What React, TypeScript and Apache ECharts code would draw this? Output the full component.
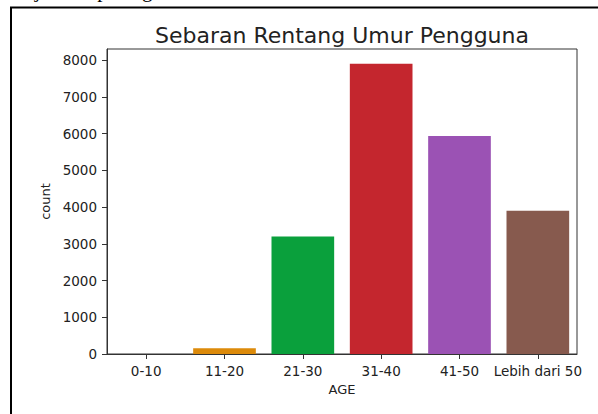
import React, { useEffect, useRef } from "react";
import * as echarts from "echarts";

const categories = ["0-10", "11-20", "21-30", "31-40", "41-50", "Lebih dari 50"];
const counts = [3, 155, 3200, 7900, 5930, 3900];
const barColors = ["#3274a1", "#dc8a0a", "#0aa03c", "#c4262e", "#9b52b4", "#875a4e"];
const yTicks = { min: 0, max: 8300, interval: 1000 };

const FONT = "DejaVu Sans";

export default function App() {
  const ref = useRef<HTMLDivElement>(null);
  useEffect(() => {
    if (!ref.current) return;
    const chart = echarts.init(ref.current, undefined, { renderer: "svg" });
    chart.setOption({
      animation: false,
      backgroundColor: "#ffffff",
      grid: {
        left: 107,
        right: 21,
        top: 49,
        bottom: 60,
        show: true,
        borderColor: "#333",
        borderWidth: 1,
        backgroundColor: "transparent",
      },
      graphic: [
        {
          type: "rect",
          shape: { x: 11, y: 7.5, width: 620, height: 440 },
          style: { fill: "none", stroke: "#000", lineWidth: 2 },
          silent: true,
        },
        {
          type: "text",
          x: 226,
          y: 0,
          style: {
            text: "ditunjukkan pada gambar 4.",
            fontFamily: "Liberation Serif",
            fontSize: 21,
            fill: "#000",
            align: "right",
            verticalAlign: "bottom",
          },
        },
        {
          type: "text",
          x: 342,
          y: 35,
          style: {
            text: "Sebaran Rentang Umur Pengguna",
            fontFamily: FONT,
            fontSize: 22,
            fill: "#222",
            align: "center",
            verticalAlign: "middle",
          },
        },
      ],
      xAxis: {
        type: "category",
        data: categories,
        name: "AGE",
        nameLocation: "middle",
        nameGap: 29,
        nameTextStyle: { fontFamily: FONT, fontSize: 13, color: "#222" },
        axisLine: { show: true, lineStyle: { color: "#333", width: 1 } },
        axisTick: { show: true, alignWithLabel: true, length: 5, lineStyle: { color: "#333" } },
        axisLabel: { fontFamily: FONT, fontSize: 13.5, color: "#222", margin: 10, interval: 0 },
        splitLine: { show: false },
      },
      yAxis: {
        type: "value",
        min: yTicks.min,
        max: yTicks.max,
        interval: yTicks.interval,
        name: "count",
        nameLocation: "middle",
        nameRotate: 90,
        nameGap: 52,
        nameTextStyle: { fontFamily: FONT, fontSize: 13, color: "#222" },
        axisLine: { show: true, lineStyle: { color: "#333", width: 1 } },
        axisTick: { show: true, length: 5, lineStyle: { color: "#333" } },
        axisLabel: {
          fontFamily: FONT,
          fontSize: 13.5,
          color: "#222",
          margin: 10,
          showMaxLabel: false,
          formatter: (v: number) => (v % 1000 === 0 ? String(v) : ""),
        },
        splitLine: { show: false },
      },
      series: [
        {
          type: "bar",
          barCategoryGap: "20%",
          data: counts.map((v, i) => ({ value: v, itemStyle: { color: barColors[i] } })),
        },
      ],
    });
    return () => chart.dispose();
  }, []);
  return (
    <div
      ref={ref}
      style={{ position: "fixed", left: 0, top: 0, width: 598, height: 414, background: "#fff" }}
    />
  );
}
